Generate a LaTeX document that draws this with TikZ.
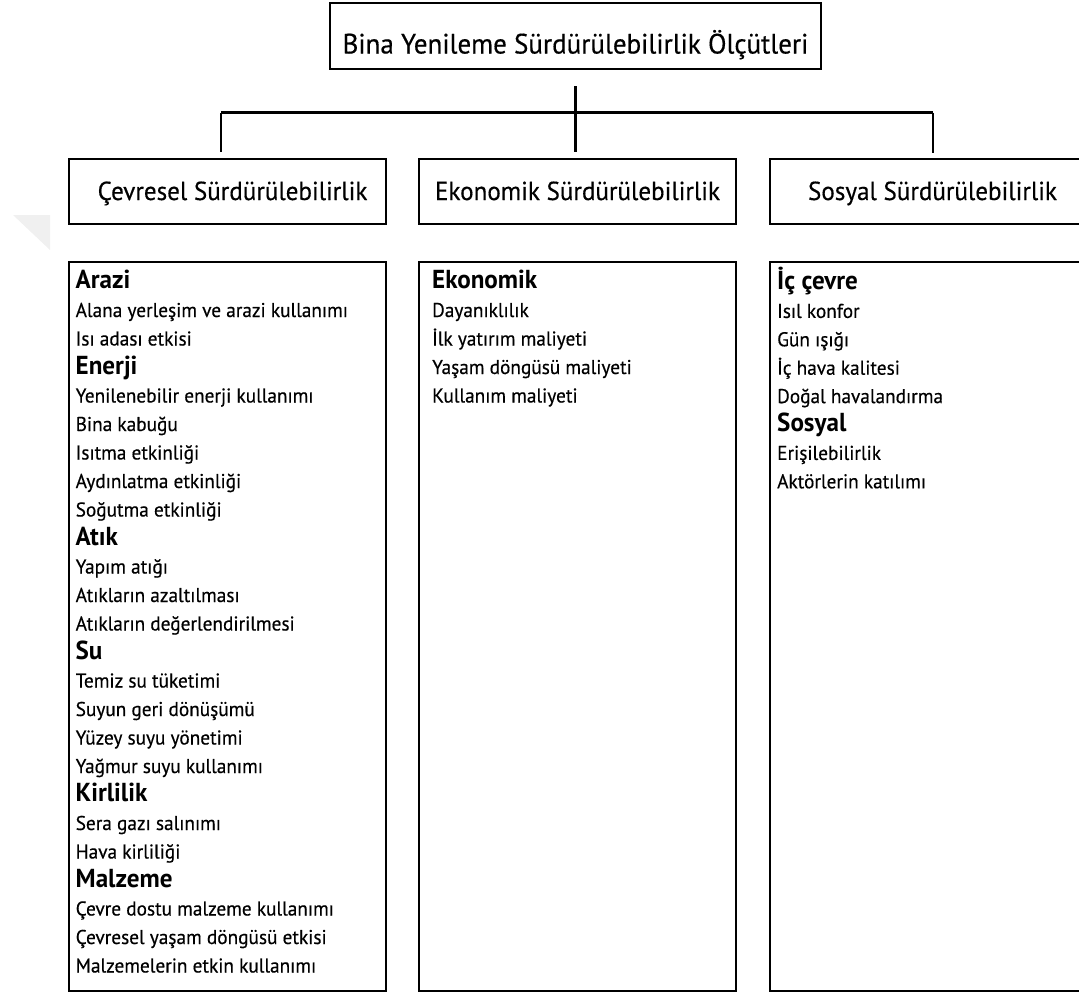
\documentclass[tikz,border=0pt]{standalone}
\usepackage{fontspec}
\setmainfont{PT Sans}[FakeStretch=0.965, UprightFeatures={FakeBold=0.4}]
\usetikzlibrary{calc}
\begin{document}
\begin{tikzpicture}[x=1pt,y=-1pt,
  frame/.style={draw, line width=2.2pt, inner sep=0pt},
  link/.style={draw, line width=2.2pt},
  titletext/.style={anchor=base, inner sep=0pt, font=\fontsize{28}{30}\selectfont},
  headtext/.style={anchor=base, inner sep=0pt, font=\fontsize{26}{28}\selectfont},
  itemtext/.style={anchor=base west, inner sep=0pt, font=\fontsize{20}{22}\selectfont}]
\newcommand{\grouphead}[1]{{\bfseries\fontsize{26}{28}\selectfont #1}}
\useasboundingbox (0,0) rectangle (1079,993);
\clip (0,0) rectangle (1079,993);

% faint corner mark
\fill[gray!12] (13,215) -- (50,215) -- (50,250) -- cycle;

% top box
\node[frame, minimum width=491pt, minimum height=66pt] (rootbox) at (575.5,36) {};
\node[titletext] (root) at (575.5,53.5) {Bina Yenileme Sürdürülebilirlik Ölçütleri};

% second row boxes
\node[frame, minimum width=317pt, minimum height=65pt] (envbox) at (227.5,191.5) {};
\node[frame, minimum width=317pt, minimum height=65pt] (ecobox) at (577.75,191.5) {};
\node[frame, minimum width=320pt, minimum height=65pt] (socbox) at (930,191.5) {};
\node[headtext] (env) at (232.5,200) {Çevresel Sürdürülebilirlik};
\node[headtext] (eco) at (577.5,200) {Ekonomik Sürdürülebilirlik};
\node[headtext] (soc) at (932.5,200) {Sosyal Sürdürülebilirlik};

% connectors
\coordinate (hub) at (575.5,112.5);
\coordinate (envtop) at (221,112.5);
\coordinate (soctop) at (933,112.5);
\draw[link] ($(rootbox.south)+(0,16)$) -- ($(ecobox.north)+(-2.25,-6)$);
\draw[link] (envtop) -- (soctop);
\draw[link] (envtop) -- (envtop |- 0,152);
\draw[link] (soctop) -- (soctop |- 0,153);

% content boxes
\node[frame, minimum width=317pt, minimum height=729pt] (envlist) at (227.5,626.2) {};
\node[frame, minimum width=317pt, minimum height=729pt] (ecolist) at (577.75,626.2) {};
\node[frame, minimum width=320pt, minimum height=729pt] (soclist) at (930,626.2) {};

% environmental criteria
\foreach \t [count=\i from 0] in {
  \grouphead{Arazi}, Alana yerleşim ve arazi kullanımı, Isı adası etkisi,
  \grouphead{Enerji}, Yenilenebilir enerji kullanımı, Bina kabuğu,
  Isıtma etkinliği, Aydınlatma etkinliği, Soğutma etkinliği,
  \grouphead{Atık}, Yapım atığı, Atıkların azaltılması, Atıkların değerlendirilmesi,
  \grouphead{Su}, Temiz su tüketimi, Suyun geri dönüşümü, Yüzey suyu yönetimi,
  Yağmur suyu kullanımı,
  \grouphead{Kirlilik}, Sera gazı salınımı, Hava kirliliği,
  \grouphead{Malzeme}, Çevre dostu malzeme kullanımı, Çevresel yaşam döngüsü etkisi,
  Malzemelerin etkin kullanımı}
  \node[itemtext] (e\i) at (75.5,288.5+28.5*\i) {\t};

% economic criteria
\foreach \t [count=\i from 0] in {
  \grouphead{Ekonomik}, Dayanıklılık, İlk yatırım maliyeti,
  Yaşam döngüsü maliyeti, Kullanım maliyeti}
  \node[itemtext] (k\i) at (432,288.5+28.5*\i) {\t};

% social criteria
\foreach \t [count=\i from 0] in {
  \grouphead{İç çevre}, Isıl konfor, Gün ışığı, İç hava kalitesi,
  Doğal havalandırma, \grouphead{Sosyal}, Erişilebilirlik, Aktörlerin katılımı}
  \node[itemtext] (s\i) at (777,289.5+28.4*\i) {\t};
\end{tikzpicture}
\end{document}
